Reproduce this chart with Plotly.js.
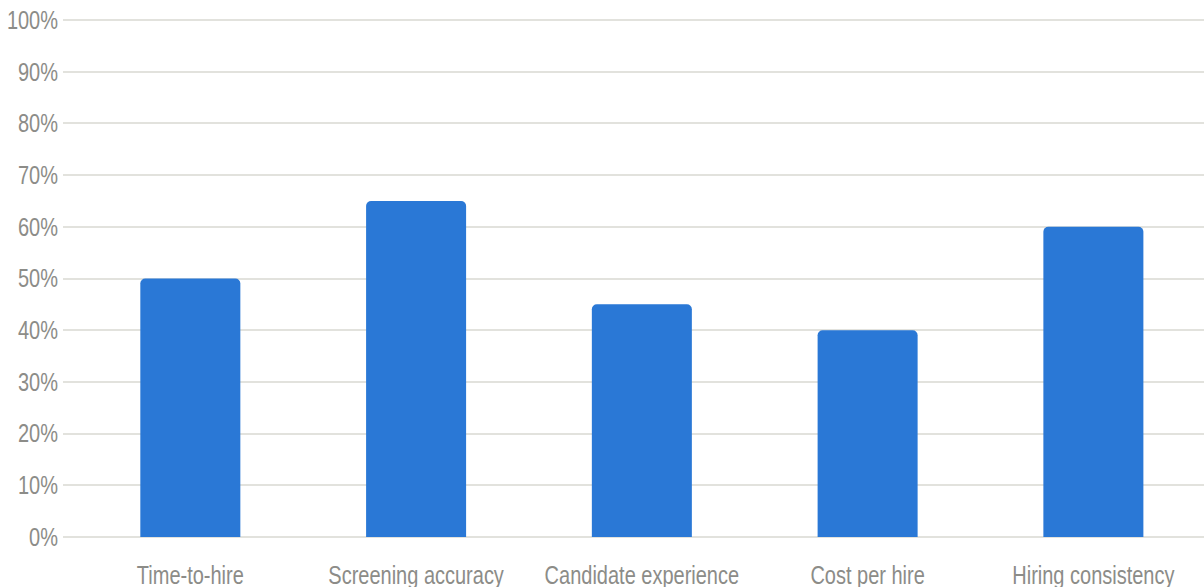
<!DOCTYPE html>
<html>
<head>
<meta charset="utf-8">
<script src="https://cdn.plot.ly/plotly-3.0.1.min.js"></script>
<style>
  html, body { margin: 0; padding: 0; background: #ffffff; overflow: hidden; }
  #chart { width: 1204px; height: 587px; }
</style>
</head>
<body>
<div id="chart"></div>
<script>
// Hiring metrics improved, share of respondents
const categories = ["Time-to-hire", "Screening accuracy", "Candidate experience", "Cost per hire", "Hiring consistency"];
const values = [50, 65, 45, 40, 60];
const yTicks = [0, 10, 20, 30, 40, 50, 60, 70, 80, 90, 100];
const yTickLabels = yTicks.map(v => v + "%");

const labelFont = { family: "'Liberation Sans Narrow', 'Arial Narrow', 'Liberation Sans', Arial, sans-serif", size: 25, color: "#8c8c88" };

// horizontal squeeze applied to axis labels for a narrow face
const LABEL_STRETCH = 0.8;

const trace = {
  type: "bar",
  x: categories,
  y: values,
  marker: { color: "#2a78d6", line: { width: 0 } },
  hoverinfo: "x+y"
};

const layout = {
  width: 1204,
  height: 587,
  margin: { l: 63, r: 0, t: 18, b: 48 },
  paper_bgcolor: "#ffffff",
  plot_bgcolor: "#ffffff",
  bargap: 0.557,
  barcornerradius: 5,
  showlegend: false,
  font: labelFont,
  xaxis: {
    type: "category",
    range: [-0.564, 4.49],
    showgrid: false,
    zeroline: false,
    showline: false,
    ticks: "",
    tickangle: 0,
    tickfont: labelFont,
    ticklabelstandoff: 19,
    fixedrange: true
  },
  yaxis: {
    range: [-0.4, 100.4],
    tickvals: yTicks,
    ticktext: yTickLabels,
    showgrid: true,
    gridcolor: "#e2e2dd",
    gridwidth: 2,
    zeroline: false,
    showline: false,
    ticks: "",
    tickfont: labelFont,
    ticklabelstandoff: 4,
    fixedrange: true
  }
};

function squeezeLabels(gd) {
  gd.querySelectorAll("g.xtick text, g.ytick text").forEach(t => {
    if (t.dataset.squeezed) return;
    const ax = parseFloat(t.getAttribute("x")) || 0;
    const base = t.getAttribute("transform") || "";
    t.setAttribute("transform",
      base + " translate(" + ax + ",0) scale(" + LABEL_STRETCH + ",1) translate(" + (-ax) + ",0)");
    t.dataset.squeezed = "1";
  });
}

const gd = document.getElementById("chart");
Plotly.newPlot(gd, [trace], layout, { displayModeBar: false, staticPlot: true })
  .then(() => squeezeLabels(gd));
</script>
</body>
</html>
